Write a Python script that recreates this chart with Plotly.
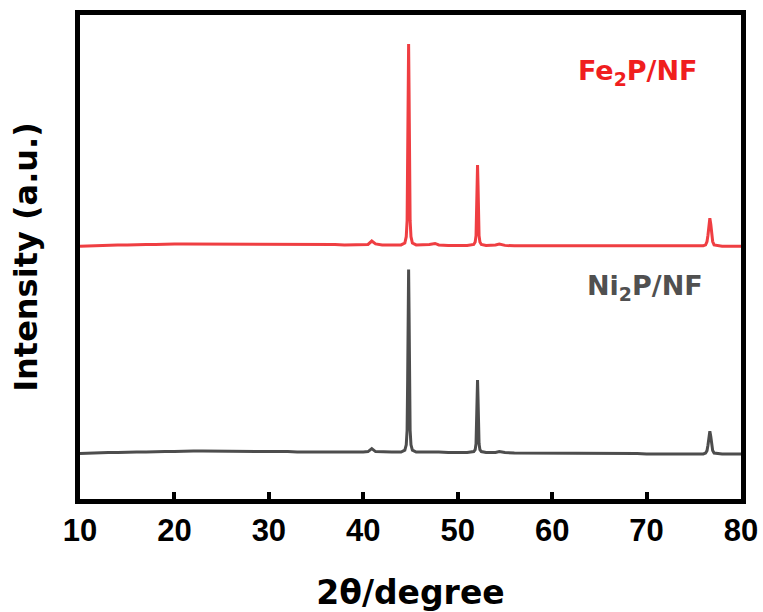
import plotly.graph_objects as go

# ---- data (2theta in degrees, intensity in a.u.) ----
two_theta = [10, 11, 12, 13, 14, 15, 16, 17, 18, 19, 20, 21, 22, 23, 24, 25, 26, 27, 28, 29,
             30, 31, 32, 33, 34, 35, 36, 37, 38, 39, 40,
             40.5, 40.9, 41.3, 42, 43, 44,
             44.4, 44.55, 44.64, 44.7, 44.75, 44.8, 44.85, 44.9, 44.96, 45.05, 45.2,
             45.6, 46, 47, 47.6, 48, 49, 50, 51,
             51.7, 51.85, 51.94, 52.0, 52.05, 52.1, 52.15, 52.2, 52.26, 52.35, 52.5,
             53, 54, 54.4, 55,
             56, 57, 58, 59, 60, 61, 62, 63, 64, 65, 66, 67, 68, 69, 70, 71, 72, 73, 74, 75,
             76, 76.25, 76.4, 76.5, 76.6, 76.7, 76.8, 76.9, 77.0, 77.15, 78, 79, 80]

ni2p_intensity = [94, 95, 95, 96, 96, 97, 97, 97, 98, 98, 98, 99, 99, 99, 99, 98, 99, 99, 98, 98,
                  98, 98, 98, 97, 97, 97, 97, 97, 96, 96, 97,
                  98, 104, 98, 97, 97, 97,
                  101, 112, 142, 248, 381, 474, 381, 248, 142, 112, 101,
                  97, 97, 97, 98, 97, 96, 96, 96,
                  98, 102, 114, 156, 208, 246, 208, 156, 114, 102, 98,
                  96, 96, 98, 96,
                  95, 95, 95, 95, 95, 95, 94, 94, 94, 94, 94, 94, 94, 94, 93, 93, 93, 93, 93, 93,
                  93, 95, 100, 111, 129, 140, 129, 111, 100, 95, 93, 93, 93]

fe2p_intensity = [94, 95, 96, 96, 97, 97, 98, 98, 98, 99, 99, 99, 99, 99, 99, 99, 99, 99, 99, 98,
                  98, 98, 98, 98, 98, 98, 98, 98, 97, 97, 97,
                  98, 105, 99, 97, 97, 97,
                  101, 114, 147, 264, 408, 512, 408, 264, 147, 114, 101,
                  97, 97, 98, 100, 97, 96, 96, 96,
                  98, 103, 116, 162, 221, 262, 221, 162, 116, 103, 98,
                  96, 97, 99, 96,
                  95, 95, 95, 95, 95, 95, 95, 95, 94, 94, 94, 94, 94, 94, 94, 94, 94, 94, 94, 94,
                  95, 97, 104, 117, 140, 152, 140, 117, 104, 97, 94, 94, 94]

sample_names = ["Ni<sub>2</sub>P/NF", "Fe<sub>2</sub>P/NF"]
x_ticks = [10, 20, 30, 40, 50, 60, 70, 80]

# ---- styling / layout parameters ----
fe_offset = 428
ni_color = "#4D4D4D"
fe_color = "#EF3E42"
fe_text_color = "#F01E1E"
ni_text_color = "#505050"
title_font = "DejaVu Sans"
tick_font = "Liberation Sans, Arial, sans-serif"

fig = go.Figure()
fig.add_trace(go.Scatter(x=two_theta, y=ni2p_intensity, mode="lines",
                         line=dict(color=ni_color, width=3), name="Ni2P/NF",
                         showlegend=False))
fig.add_trace(go.Scatter(x=two_theta, y=[v + fe_offset for v in fe2p_intensity], mode="lines",
                         line=dict(color=fe_color, width=3), name="Fe2P/NF",
                         showlegend=False))

fig.add_annotation(x=69.1, y=882, xref="x", yref="y", text="<b>" + sample_names[1] + "</b>",
                   showarrow=False, font=dict(family=title_font, size=27, color=fe_text_color))
fig.add_annotation(x=69.8, y=436, xref="x", yref="y", text="<b>" + sample_names[0] + "</b>",
                   showarrow=False, font=dict(family=title_font, size=27, color=ni_text_color))

fig.update_xaxes(range=[10, 80], tickvals=x_ticks, ticktext=[str(t) for t in x_ticks],
                 ticks="inside", ticklen=7, tickwidth=4, tickcolor="black",
                 showline=True, linewidth=5, linecolor="black", mirror=True,
                 showgrid=False, zeroline=False,
                 tickfont=dict(family=tick_font, size=31, color="black", weight="bold"),
                 title=dict(text="<b>2θ/degree</b>", standoff=35,
                            font=dict(family=title_font, size=33, color="black")))
fig.update_yaxes(range=[0, 1000], showticklabels=False, ticks="",
                 showline=True, linewidth=5, linecolor="black", mirror=True,
                 showgrid=False, zeroline=False,
                 title=dict(text="<b>Intensity (a.u.)</b>", standoff=29,
                            font=dict(family=title_font, size=32, color="black")))

fig.update_layout(width=763, height=612,
                  margin=dict(l=80, r=22, t=15, b=113, autoexpand=False),
                  paper_bgcolor="white", plot_bgcolor="white")

fig.write_html("out.html", config={"displayModeBar": False},
               post_script="document.body.style.margin='0px';")
